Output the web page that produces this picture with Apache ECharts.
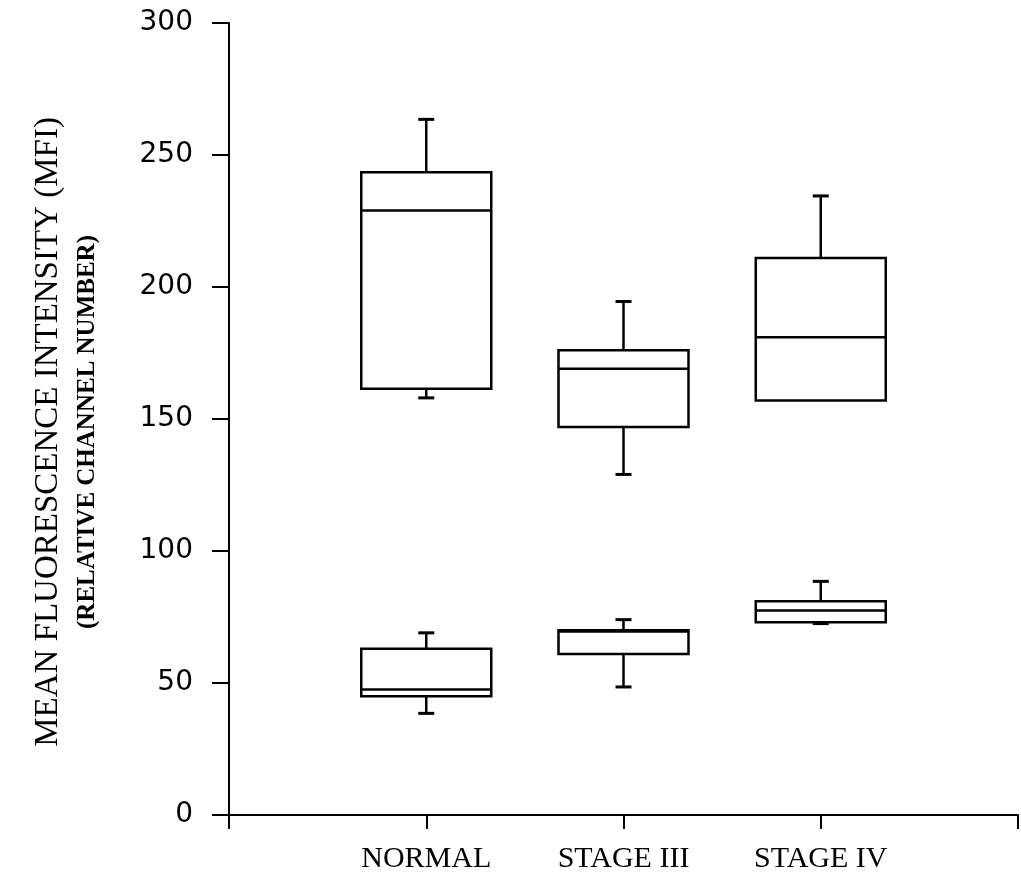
<!DOCTYPE html>
<html>
<head>
<meta charset="utf-8">
<script src="https://cdn.jsdelivr.net/npm/echarts@6/dist/echarts.min.js"></script>
<style>
  html, body { margin: 0; padding: 0; background: #fff; }
  #chart { width: 1021px; height: 886px; }
</style>
</head>
<body>
<div id="chart"></div>
<script>
// Group labels along the x axis
const categories = ['NORMAL', 'STAGE III', 'STAGE IV'];

// Five-number summaries [min, Q1, median, Q3, max] per group, upper (bright) population
const upperNormal = [158, 161.5, 229, 243.5, 263.5];
const upperStage3 = [129, 147, 169, 176, 194.5];
const upperStage4 = [157, 157, 181, 211, 234.5];

// Five-number summaries [min, Q1, median, Q3, max] per group, lower (dim) population
const lowerNormal = [38.5, 45, 47.5, 63, 69];
const lowerStage3 = [48.5, 61, 69.5, 70, 74];
const lowerStage4 = [72.5, 73, 77.5, 81, 88.5];

// Y axis ticks
const yTicks = [0, 50, 100, 150, 200, 250, 300];

const upperSets = [upperNormal, upperStage3, upperStage4];
const lowerSets = [lowerNormal, lowerStage3, lowerStage4];

function toRows(sets) {
  return sets.map((s, i) => [i + 1].concat(s));
}

const BOX_HALF = 65;
const CAP_HALF = 8;
const LINE_W = 2.5;
const STROKE = { stroke: '#000', lineWidth: LINE_W, fill: null };
const CAP = { stroke: '#000', lineWidth: 3, fill: null };

function renderBox(params, api) {
  const x = api.value(0);
  const pMin = api.coord([x, api.value(1)]);
  const pQ1 = api.coord([x, api.value(2)]);
  const pMed = api.coord([x, api.value(3)]);
  const pQ3 = api.coord([x, api.value(4)]);
  const pMax = api.coord([x, api.value(5)]);
  const cx = pMed[0];
  const children = [];
  if (pMax[1] < pQ3[1]) {
    children.push({ type: 'line', shape: { x1: cx, y1: pQ3[1], x2: cx, y2: pMax[1] }, style: STROKE });
    children.push({ type: 'line', shape: { x1: cx - CAP_HALF, y1: pMax[1], x2: cx + CAP_HALF, y2: pMax[1] }, style: CAP });
  }
  if (pMin[1] > pQ1[1]) {
    children.push({ type: 'line', shape: { x1: cx, y1: pQ1[1], x2: cx, y2: pMin[1] }, style: STROKE });
    children.push({ type: 'line', shape: { x1: cx - CAP_HALF, y1: pMin[1], x2: cx + CAP_HALF, y2: pMin[1] }, style: CAP });
  }
  children.push({
    type: 'rect',
    shape: { x: cx - BOX_HALF, y: pQ3[1], width: BOX_HALF * 2, height: pQ1[1] - pQ3[1] },
    style: { stroke: '#000', lineWidth: LINE_W, fill: 'rgba(0,0,0,0)' }
  });
  children.push({ type: 'line', shape: { x1: cx - BOX_HALF, y1: pMed[1], x2: cx + BOX_HALF, y2: pMed[1] }, style: STROKE });
  return { type: 'group', children: children };
}

const chart = echarts.init(document.getElementById('chart'), null, { renderer: 'canvas' });

chart.setOption({
  backgroundColor: '#ffffff',
  animation: false,
  grid: { left: 229, right: 2, top: 23, bottom: 71, containLabel: false },
  xAxis: {
    type: 'value',
    min: 0,
    max: categories.length + 1,
    interval: 1,
    splitLine: { show: false },
    axisLine: { show: true, onZero: false, lineStyle: { color: '#000', width: 2 } },
    axisTick: { show: true, length: 14, lineStyle: { color: '#000', width: 2 } },
    axisLabel: {
      margin: 29,
      color: '#000',
      fontFamily: '"Liberation Serif", serif',
      fontSize: 30,
      formatter: v => categories[v - 1] || ''
    }
  },
  yAxis: {
    type: 'value',
    min: yTicks[0],
    max: yTicks[yTicks.length - 1],
    interval: yTicks[1] - yTicks[0],
    splitLine: { show: false },
    axisLine: { show: true, lineStyle: { color: '#000', width: 2 } },
    axisTick: { show: true, length: 17, lineStyle: { color: '#000', width: 2 } },
    axisLabel: {
      margin: 36,
      color: '#000',
      fontFamily: '"DejaVu Sans", sans-serif',
      fontSize: 28,
      padding: [4, 0, 0, 0]
    }
  },
  graphic: [
    {
      type: 'text',
      x: 48,
      y: 432,
      rotation: Math.PI / 2,
      style: {
        text: 'MEAN FLUORESCENCE INTENSITY (MFI)',
        font: '33px "Liberation Serif", serif',
        fill: '#000',
        align: 'center',
        verticalAlign: 'middle'
      }
    },
    {
      type: 'text',
      x: 88,
      y: 432,
      rotation: Math.PI / 2,
      style: {
        text: '(RELATIVE CHANNEL NUMBER)',
        font: 'bold 25px "Liberation Serif", serif',
        fill: '#000',
        align: 'center',
        verticalAlign: 'middle'
      }
    }
  ],
  series: [
    {
      name: 'upper',
      type: 'custom',
      renderItem: renderBox,
      encode: { x: 0, y: [1, 2, 3, 4, 5] },
      data: toRows(upperSets)
    },
    {
      name: 'lower',
      type: 'custom',
      renderItem: renderBox,
      encode: { x: 0, y: [1, 2, 3, 4, 5] },
      data: toRows(lowerSets)
    }
  ]
});
</script>
</body>
</html>
